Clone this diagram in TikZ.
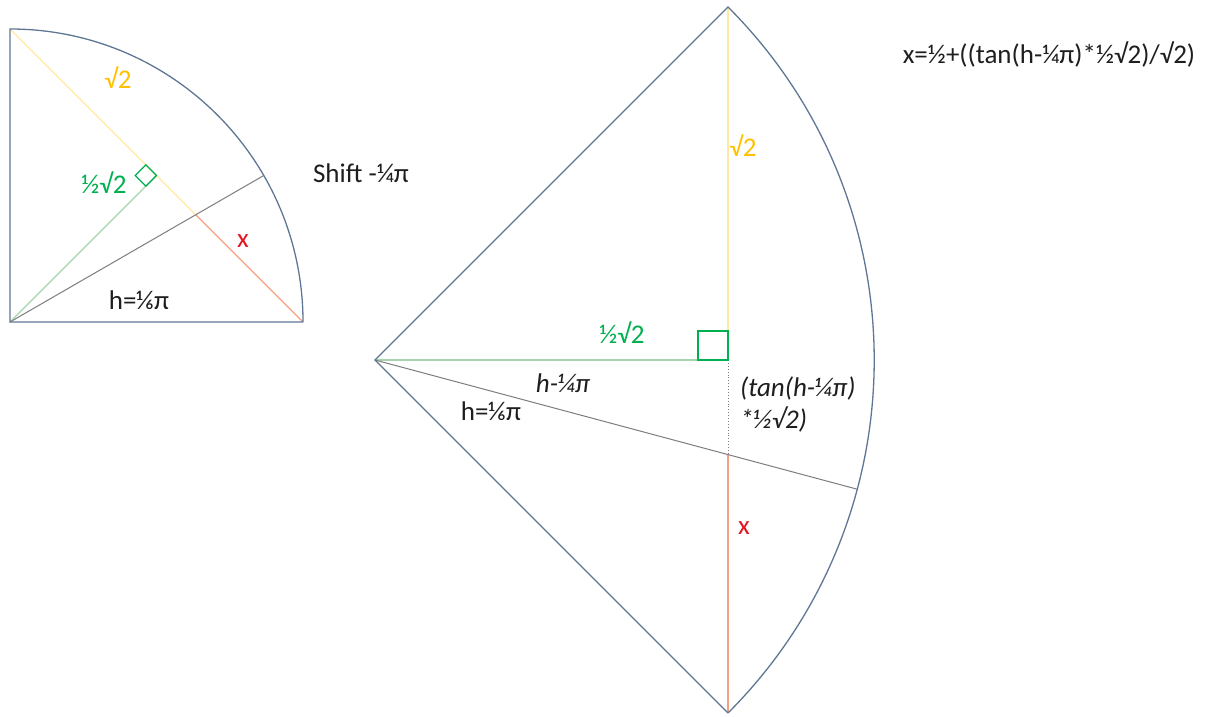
\documentclass[tikz,border=0pt]{standalone}
\usepackage{fontspec}
\setmainfont{Carlito}
\usetikzlibrary{calc}
\definecolor{outl}{RGB}{95,118,148}
\definecolor{yline}{RGB}{255,232,160}
\definecolor{ytext}{RGB}{255,192,0}
\definecolor{gline}{RGB}{165,212,175}
\definecolor{gtext}{RGB}{0,176,80}
\definecolor{rline}{RGB}{244,160,130}
\definecolor{rtext}{RGB}{230,20,30}
\definecolor{hline}{RGB}{125,125,125}
\definecolor{txt}{RGB}{30,30,30}
\tikzset{
  outline/.style={draw=outl, line width=1.3pt},
  yl/.style={draw=yline, line width=1.1pt},
  gl/.style={draw=gline, line width=1.1pt},
  rl/.style={draw=rline, line width=1.1pt},
  hl/.style={draw=hline, line width=1pt},
  lbl/.style={font=\fontsize{27}{32}\selectfont, text=txt, inner sep=0pt},
  ilbl/.style={lbl, font=\fontsize{27}{32}\selectfont\itshape},
}
\begin{document}
\begin{tikzpicture}[x=1pt,y=1pt]
\useasboundingbox (0,0) rectangle (1206,716);
% ---------- left figure ----------
\coordinate (C1) at (10,394);
\coordinate (T1) at (10,687);
\coordinate (R1) at (303,394);
\coordinate (M1) at (156.5,540.5);
\coordinate (G1) at ($(C1)+(30:293)$);
\coordinate (X1) at ($(C1)+(30:214.5)$);
\draw[yl] (T1) -- (X1);
\draw[rl] (X1) -- (R1);
\draw[gl] (C1) -- (M1);
\draw[hl] (C1) -- (G1);
\draw[draw=gtext, line width=1.2pt] (M1) -- ++(135:15) -- ++(225:15) -- ++(315:15) -- cycle;
\draw[outline] (R1) -- (C1) -- (T1) arc[start angle=90, end angle=0, radius=293];
\node[lbl, text=ytext] (l1) at (118,638) {√2};
\node[lbl, text=gtext] (l2) at (104,533) {½√2};
\node[lbl, text=rtext] (l3) at (243,475) {x};
\node[lbl] (l4) at (139,416) {h=⅙π};
\node[lbl] (shift) at (361,543) {Shift -¼π};
% ---------- right figure ----------
\coordinate (C2) at (375,356);
\coordinate (T2) at (728,709);
\coordinate (B2) at (728,3);
\coordinate (M2) at (728,356);
\coordinate (G2) at ($(C2)+(-15:499.2)$);
\coordinate (X2) at (728,261.4);
\draw[yl] (T2) -- (M2);
\draw[gl] (C2) -- (M2);
\draw[hline, line width=0.9pt, dotted] (M2) -- (X2);
\draw[rl] (X2) -- (B2);
\draw[hl] (C2) -- (G2);
\draw[draw=gtext, line width=1.2pt] (M2) rectangle ++(-30,29);
\draw[outline] (B2) -- (C2) -- (T2) arc[start angle=45, end angle=-45, radius=499.2];
\node[lbl, text=ytext] (r1) at (743,570) {√2};
\node[lbl, text=gtext] (r2) at (622,383) {½√2};
\node[ilbl] (r3) at (563,333) {h-¼π};
\node[lbl] (r4) at (491,305) {h=⅙π};
\node[ilbl, anchor=base west, align=left] (r5) at (740,288) {(tan(h-¼π)\\*½√2)};
\node[lbl, text=rtext] (r6) at (744,188) {x};
\node[lbl] (formula) at (1049,662) {x=½+((tan(h-¼π)*½√2)/√2)};
\end{tikzpicture}
\end{document}
